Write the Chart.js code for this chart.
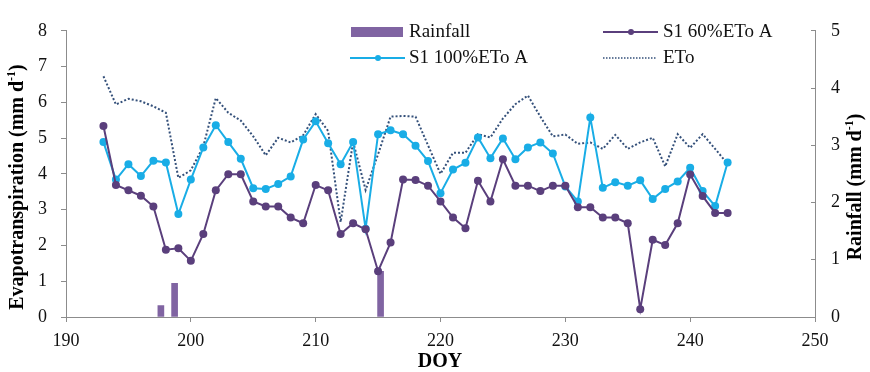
<!DOCTYPE html>
<html>
<head>
<meta charset="utf-8">
<script src="https://cdn.jsdelivr.net/npm/chart.js@4.4.1/dist/chart.umd.min.js"></script>
<style>
  html, body { margin: 0; padding: 0; background: #fff; }
  #wrap { width: 870px; height: 372px; }
</style>
</head>
<body>
<div id="wrap"><canvas id="chart" width="870" height="372"></canvas></div>
<script>
// day of year for the two crop series and ETo
const doy = [193, 194, 195, 196, 197, 198, 199, 200, 201, 202, 203, 204, 205,
             206, 207, 208, 209, 210, 211, 212, 213, 214, 215, 216, 217, 218,
             219, 220, 221, 222, 223, 224, 225, 226, 227, 228, 229, 230, 231,
             232, 233, 234, 235, 236, 237, 238, 239, 240, 241, 242, 243];

const s1_60 = [5.34, 3.69, 3.54, 3.39, 3.09, 1.88, 1.92, 1.57, 2.32, 3.54, 3.99, 3.99, 3.23,
               3.09, 3.09, 2.78, 2.62, 3.69, 3.54, 2.32, 2.62, 2.45, 1.28, 2.08, 3.84, 3.83,
               3.67, 3.23, 2.78, 2.48, 3.81, 3.23, 4.41, 3.67, 3.67, 3.52, 3.67, 3.67, 3.07,
               3.07, 2.78, 2.78, 2.62, 0.22, 2.16, 2.01, 2.62, 3.98, 3.38, 2.91, 2.91];

const s1_100 = [4.89, 3.84, 4.27, 3.94, 4.37, 4.32, 2.88, 3.84, 4.74, 5.36, 4.89, 4.42, 3.60,
                3.58, 3.72, 3.93, 4.96, 5.47, 4.86, 4.27, 4.89, 2.47, 5.11, 5.22, 5.11, 4.79,
                4.36, 3.46, 4.12, 4.31, 5.02, 4.44, 4.99, 4.41, 4.74, 4.88, 4.57, 3.65, 3.23,
                5.58, 3.61, 3.77, 3.67, 3.82, 3.30, 3.58, 3.79, 4.17, 3.52, 3.10, 4.32];

const eto = [6.73, 5.94, 6.10, 6.03, 5.89, 5.71, 3.89, 4.10, 4.77, 6.12, 5.71, 5.49, 5.05,
             4.52, 5.01, 4.88, 5.08, 5.67, 5.20, 2.65, 4.90, 3.55, 4.55, 5.60, 5.62, 5.60,
             4.80, 4.00, 4.59, 4.59, 5.11, 5.02, 5.55, 5.95, 6.19, 5.60, 5.05, 5.10, 4.84,
             4.88, 4.70, 5.09, 4.70, 4.88, 5.01, 4.21, 5.11, 4.73, 5.11, 4.70, 4.28];

// rainfall events (right axis)
const rainDoy = [197.6, 198.7, 215.2];
const rain = [0.20, 0.59, 0.80];

const xTicks = [190, 200, 210, 220, 230, 240, 250];

const serif = '"Liberation Serif", "Times New Roman", serif';
const axisColor = '#8c8c8c';
const purple = '#5a3f7c';
const blue = '#19ade6';
const etoColor = '#34507a';
const rainColor = '#8064a2';

const pts = (xs, ys) => xs.map((x, i) => ({x: x, y: ys[i]}));

// axis titles with a real superscript
const drawTitle = (ctx, cx, cy, rot, main, sup, tail, size) => {
    ctx.save();
    ctx.translate(cx, cy);
    ctx.rotate(rot);
    ctx.fillStyle = '#000';
    ctx.textBaseline = 'middle';
    ctx.textAlign = 'left';
    ctx.font = 'bold ' + size + 'px ' + serif;
    const w1 = ctx.measureText(main).width;
    const w3 = ctx.measureText(tail).width;
    ctx.font = 'bold ' + Math.round(size * 0.62) + 'px ' + serif;
    const w2 = ctx.measureText(sup).width;
    let x = -(w1 + w2 + w3) / 2;
    ctx.font = 'bold ' + size + 'px ' + serif;
    ctx.fillText(main, x, 0);
    ctx.font = 'bold ' + Math.round(size * 0.62) + 'px ' + serif;
    ctx.fillText(sup, x + w1, -size * 0.32);
    ctx.font = 'bold ' + size + 'px ' + serif;
    ctx.fillText(tail, x + w1 + w2, 0);
    ctx.restore();
};

const titlesAndLegend = {
    id: 'titlesAndLegend',
    afterDraw(chart) {
        const ctx = chart.ctx;
        drawTitle(ctx, 18, 187, -Math.PI / 2, 'Evapotranspiration (mm d', '-1', ')', 20);
        drawTitle(ctx, 856, 187, -Math.PI / 2, 'Rainfall (mm d', '-1', ')', 20);
        drawTitle(ctx, 440, 362, 0, 'DOY', '', '', 20);

        ctx.save();
        ctx.font = '19px ' + serif;
        ctx.fillStyle = '#111';
        ctx.textBaseline = 'middle';
        ctx.textAlign = 'left';
        // Rainfall
        ctx.fillStyle = rainColor;
        ctx.fillRect(351, 27, 52, 10);
        ctx.fillStyle = '#111';
        ctx.fillText('Rainfall', 409, 32);
        // S1 100%ETo A
        ctx.strokeStyle = blue; ctx.lineWidth = 2;
        ctx.beginPath(); ctx.moveTo(350, 58); ctx.lineTo(405, 58); ctx.stroke();
        ctx.fillStyle = blue;
        ctx.beginPath(); ctx.arc(378, 58, 3, 0, Math.PI * 2); ctx.fill();
        ctx.fillStyle = '#111';
        ctx.fillText('S1 100%ETo A', 409, 58);
        // S1 60%ETo A
        ctx.strokeStyle = purple;
        ctx.beginPath(); ctx.moveTo(603, 32); ctx.lineTo(658, 32); ctx.stroke();
        ctx.fillStyle = purple;
        ctx.beginPath(); ctx.arc(631, 32, 3, 0, Math.PI * 2); ctx.fill();
        ctx.fillStyle = '#111';
        ctx.fillText('S1 60%ETo A', 663, 32);
        // ETo
        ctx.strokeStyle = etoColor; ctx.lineWidth = 1.5;
        ctx.setLineDash([1.5, 1.5]);
        ctx.beginPath(); ctx.moveTo(603, 58); ctx.lineTo(656, 58); ctx.stroke();
        ctx.setLineDash([]);
        ctx.fillText('ETo', 663, 58);
        ctx.restore();
    }
};

const tickFont = {family: serif, size: 18};

const config = {
    type: 'line',
    data: {
        datasets: [
            {
                label: 'S1 60%ETo A',
                data: pts(doy, s1_60),
                borderColor: purple,
                backgroundColor: purple,
                borderWidth: 2,
                pointRadius: 4,
                pointBorderWidth: 0,
                yAxisID: 'y',
                order: 1
            },
            {
                label: 'S1 100%ETo A',
                data: pts(doy, s1_100),
                borderColor: blue,
                backgroundColor: blue,
                borderWidth: 2,
                pointRadius: 4,
                pointBorderWidth: 0,
                yAxisID: 'y',
                order: 2
            },
            {
                label: 'ETo',
                data: pts(doy, eto),
                borderColor: etoColor,
                borderWidth: 2,
                borderDash: [2, 2],
                pointRadius: 0,
                yAxisID: 'y',
                order: 3
            },
            {
                type: 'bar',
                label: 'Rainfall',
                data: pts(rainDoy, rain),
                backgroundColor: rainColor,
                barThickness: 6,
                yAxisID: 'y2',
                order: 4
            }
        ]
    },
    options: {
        responsive: false,
        animation: false,
        layout: {padding: {top: 20, left: 0, right: 0, bottom: 0}},
        plugins: {legend: {display: false}, tooltip: {enabled: false}},
        scales: {
            x: {
                type: 'linear',
                min: 190,
                max: 250,
                offset: false,
                afterBuildTicks: (s) => { s.ticks = xTicks.map(v => ({value: v})); },
                ticks: {font: tickFont, color: '#111', padding: 8},
                grid: {drawOnChartArea: false, offset: false, color: axisColor, tickLength: 5},
                border: {color: axisColor, width: 1},
                afterFit: (s) => { s.height = 55; }
            },
            y: {
                position: 'left',
                min: 0,
                max: 8,
                ticks: {stepSize: 1, font: tickFont, color: '#111', padding: 14},
                grid: {drawOnChartArea: false, color: axisColor, tickLength: 5},
                border: {color: axisColor, width: 1},
                afterFit: (s) => { s.width = 66; }
            },
            y2: {
                position: 'right',
                min: 0,
                max: 5,
                ticks: {stepSize: 1, font: tickFont, color: '#111', padding: 20},
                grid: {drawOnChartArea: false, color: axisColor, tickLength: -4},
                border: {color: axisColor, width: 1},
                afterFit: (s) => { s.width = 55; }
            }
        }
    },
    plugins: [titlesAndLegend]
};

window.onload = function () {
    new Chart(document.getElementById('chart').getContext('2d'), config);
};
</script>
</body>
</html>
